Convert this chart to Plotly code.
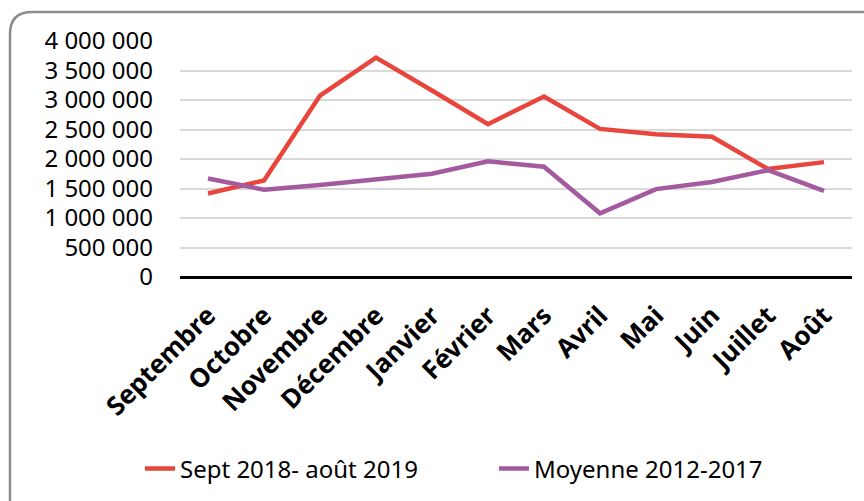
import plotly.graph_objects as go

months = ["Septembre", "Octobre", "Novembre", "Décembre", "Janvier", "Février",
          "Mars", "Avril", "Mai", "Juin", "Juillet", "Août"]
sept2018_aout2019 = [1416000, 1637000, 3076000, 3719000, 3160000, 2590000,
                     3060000, 2510000, 2420000, 2376000, 1830000, 1947000]
moyenne_2012_2017 = [1670000, 1480000, 1560000, 1650000, 1750000, 1960000,
                     1870000, 1080000, 1490000, 1610000, 1810000, 1460000]
y_ticks = [0, 500000, 1000000, 1500000, 2000000, 2500000, 3000000, 3500000, 4000000]

W, H = 864, 501
L, R, T, B = 180, 12, 41, 224
pw, ph = W - L - R, H - T - B

def px(x):
    return (x - L) / pw

def py(y):
    return (H - B - y) / ph

fig = go.Figure()
fig.add_trace(go.Scatter(x=months, y=sept2018_aout2019, mode="lines",
                         name="Sept 2018- août 2019", legend="legend",
                         line=dict(color="#E8453C", width=4.5)))
fig.add_trace(go.Scatter(x=months, y=moyenne_2012_2017, mode="lines",
                         name="Moyenne 2012-2017", legend="legend2",
                         line=dict(color="#A45A9E", width=4.5)))

border = (f"M {px(10)},{py(510)} L {px(10)},{py(34)} "
          f"Q {px(10)},{py(12)} {px(32)},{py(12)} L {px(880)},{py(12)}")

leg_common = dict(orientation="h", xanchor="left", yanchor="middle",
                  font=dict(size=24, family="Noto Sans"), bgcolor="rgba(0,0,0,0)")

fig.update_layout(
    width=W, height=H,
    margin=dict(l=L, r=R, t=T, b=B, autoexpand=False),
    paper_bgcolor="white", plot_bgcolor="white",
    separators=", ",
    font=dict(family="Noto Sans", color="black"),
    showlegend=True,
    legend=dict(x=px(140), y=py(469), **leg_common),
    legend2=dict(x=px(494), y=py(469), **leg_common),
    shapes=[dict(type="path", xref="paper", yref="paper", path=border,
                 line=dict(color="#8c8c8c", width=2.5))],
)
fig.update_xaxes(type="category", showgrid=False, showline=False, ticks="",
                 automargin=False, ticklabelstandoff=17,
                 tickangle=-45, tickfont=dict(size=26, family="Noto Sans", weight="bold"),
                 range=[-0.5, 11.5])
fig.update_yaxes(range=[0, 4000000], tickvals=y_ticks, tickformat=",d",
                 automargin=False,
                 showgrid=True, gridcolor="#d9d9d9", gridwidth=1.5,
                 zeroline=True, zerolinecolor="black", zerolinewidth=2.5,
                 showline=False, ticks="", ticklabelstandoff=26,
                 tickfont=dict(size=24, family="Noto Sans"))

fig.write_html("out.html", config={"displayModeBar": False},
               post_script="document.body.style.margin='0';")
